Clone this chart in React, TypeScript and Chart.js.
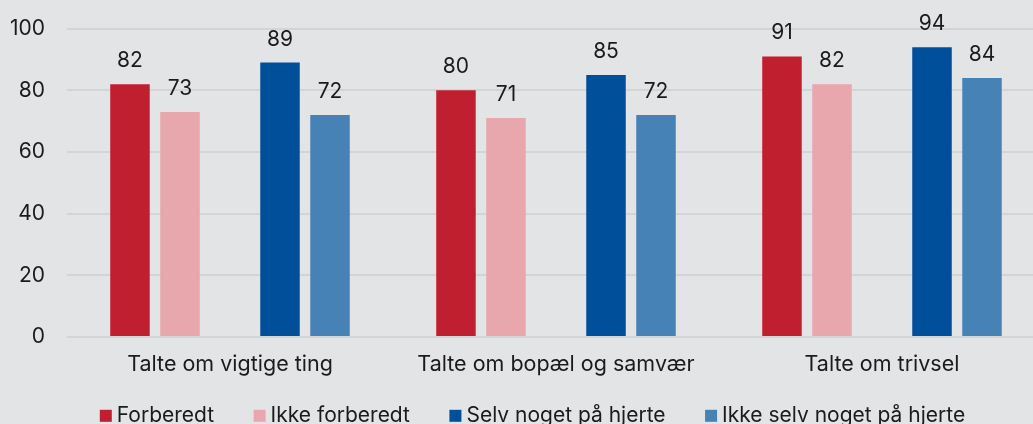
import React, { useEffect, useRef } from "react";
import { Chart, registerables } from "chart.js";

Chart.register(...registerables);

const categories = ["Talte om vigtige ting", "Talte om bopæl og samvær", "Talte om trivsel"];
const seriesNames = ["Forberedt", "Ikke forberedt", "Selv noget på hjerte", "Ikke selv noget på hjerte"];
const forberedt = [82, 80, 91];
const ikkeForberedt = [73, 71, 82];
const selvNoget = [89, 85, 94];
const ikkeSelvNoget = [72, 72, 84];
const yTicks = [0, 20, 40, 60, 80, 100];

const colors = ["#C01F30", "#E8A7AD", "#004F9B", "#4682B6"];
const BG = "#E3E4E6";
const TEXT = "#1b1b1b";
const FS = 21;
const FS_LABEL = 21.5;
const FS_LEGEND = 21;

const valueLabels = {
  id: "valueLabels",
  afterDatasetsDraw(chart: any) {
    const ctx = chart.ctx;
    ctx.save();
    ctx.font = FS + "px Inter";
    ctx.fillStyle = TEXT;
    ctx.textAlign = "center";
    ctx.textBaseline = "alphabetic";
    chart.data.datasets.forEach((ds: any, i: number) => {
      if (ds.spacer) return;
      const meta = chart.getDatasetMeta(i);
      meta.data.forEach((bar: any, j: number) => {
        const v = ds.data[j];
        if (v == null) return;
        ctx.fillText(String(v), bar.x, bar.y - 17);
      });
    });
    ctx.restore();
  },
};

// legend drawn below the x axis, from the chart's own datasets
const bottomLegend = {
  id: "bottomLegend",
  afterDraw(chart: any) {
    const ctx = chart.ctx;
    ctx.save();
    ctx.font = FS_LEGEND + "px Inter";
    ctx.textBaseline = "alphabetic";
    ctx.textAlign = "left";
    const items = chart.data.datasets.filter((d: any) => !d.spacer);
    const box = 12;
    const gapText = 5;
    const gapItem = 39.5;
    const widths = items.map((d: any) => box + gapText + ctx.measureText(d.label).width);
    const total = widths.reduce((a: number, b: number) => a + b, 0) + gapItem * (items.length - 1);
    let x = chart.width / 2 - total / 2;
    const baseline = chart.chartArea.bottom + 84.5;
    items.forEach((d: any, i: number) => {
      ctx.fillStyle = d.backgroundColor;
      ctx.fillRect(x, baseline - 11.7, box, box);
      ctx.fillStyle = TEXT;
      ctx.fillText(d.label, x + box + gapText, baseline);
      x += widths[i] + gapItem;
    });
    ctx.restore();
  },
};

export default function App() {
  const ref = useRef<HTMLCanvasElement | null>(null);
  useEffect(() => {
    if (!ref.current) return;
    Chart.defaults.font.family = "Inter";
    Chart.defaults.font.size = FS;
    Chart.defaults.color = TEXT;
    const mk = (label: string, data: (number | null)[], color: string) => ({
      label,
      data,
      backgroundColor: color,
      borderWidth: 0,
      categoryPercentage: 0.767,
      barPercentage: 0.79,
    });
    const chart = new Chart(ref.current, {
      type: "bar",
      data: {
        labels: categories,
        datasets: [
          mk(seriesNames[0], forberedt, colors[0]),
          mk(seriesNames[1], ikkeForberedt, colors[1]),
          { ...mk("", [null, null, null], "rgba(0,0,0,0)"), spacer: true } as any,
          mk(seriesNames[2], selvNoget, colors[2]),
          mk(seriesNames[3], ikkeSelvNoget, colors[3]),
        ],
      },
      options: {
        responsive: false,
        animation: false,
        layout: { padding: { left: 10, right: 20, top: 28.7, bottom: 56 } },
        plugins: {
          tooltip: { enabled: false },
          legend: { display: false },
        },
        scales: {
          x: {
            afterFit: (s: any) => {
              s.height = 47;
            },
            grid: { display: false, drawTicks: false },
            border: { display: false },
            ticks: { padding: 15, color: TEXT, font: { size: FS_LABEL } },
          },
          y: {
            min: 0,
            max: 100,
            afterFit: (s: any) => {
              s.width = 57;
            },
            afterBuildTicks: (s: any) => {
              s.ticks = yTicks.map((v) => ({ value: v }));
            },
            grid: {
              color: "#D3D4D6",
              lineWidth: 2,
              drawTicks: true,
              tickLength: 19,
              tickColor: "rgba(0,0,0,0)",
            },
            border: { display: false },
            ticks: { padding: 3, color: TEXT, font: { size: FS } },
          },
        },
      },
      plugins: [valueLabels, bottomLegend],
    });
    return () => chart.destroy();
  }, []);
  return (
    <div
      style={{
        position: "fixed",
        left: 0,
        top: 0,
        width: 1033,
        height: 424,
        overflow: "hidden",
        background: BG,
      }}
    >
      <canvas ref={ref} width={1065} height={440} style={{ display: "block" }} />
    </div>
  );
}
